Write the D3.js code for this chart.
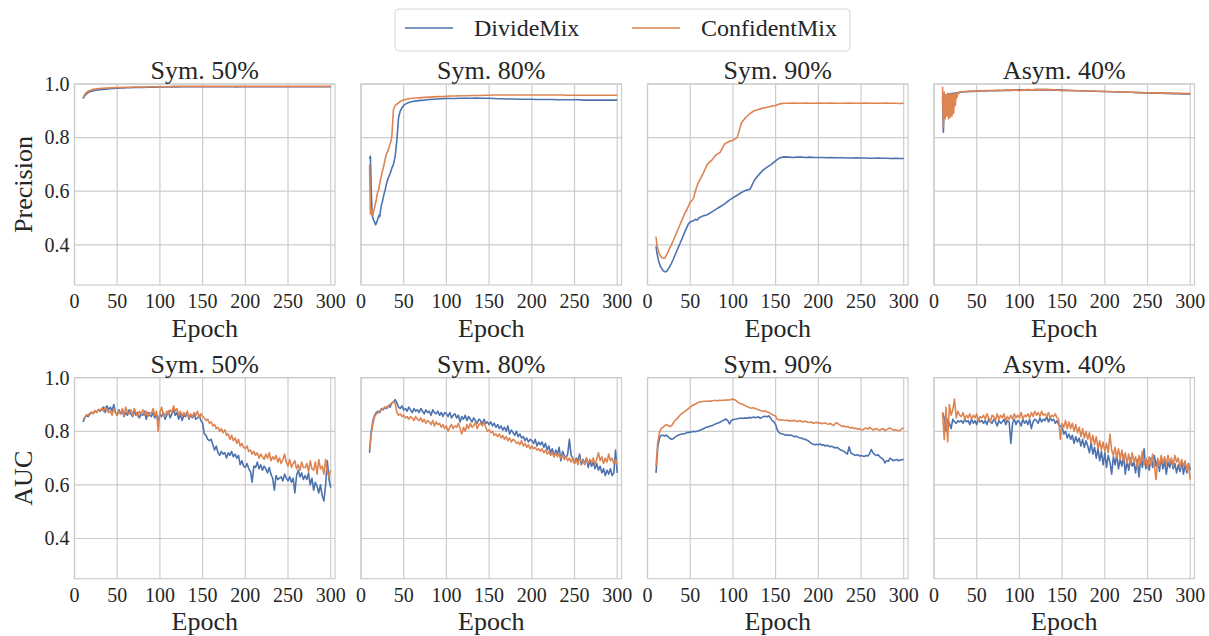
<!DOCTYPE html>
<html>
<head>
<meta charset="utf-8">
<script src="https://cdn.jsdelivr.net/npm/d3@7"></script>
<style>
  body { margin: 0; background: #fff; }
  text { font-family: "Liberation Serif", "Times New Roman", Times, serif; fill: #262626; }
</style>
</head>
<body>
<svg id="chart" width="1209" height="636"></svg>
<script>
// categories / ticks
const panelTitles = ["Sym. 50%", "Sym. 80%", "Sym. 90%", "Asym. 40%"];
const methods = ["DivideMix", "ConfidentMix"];
const rowLabels = ["Precision", "AUC"];
const xTicks = [0, 50, 100, 150, 200, 250, 300];
const yTicks = [0.4, 0.6, 0.8, 1.0];

const precEpochs = [10, 11, 12, 13, 14, 15, 16, 17, 18, 19, 20, 21, 22, 23, 24, 25, 26, 27, 28, 29, 30,
  32, 34, 36, 38, 40, 42, 44, 46, 48, 50, 52, 54, 56, 58, 60,
  65, 70, 75, 80, 85, 90, 95, 100, 105, 110, 115, 120, 125, 130, 135, 140, 145, 150, 155, 160, 165, 170, 175, 180,
  185, 190, 195, 200, 205, 210, 215, 220, 225, 230, 235, 240, 245, 250, 255, 260, 265, 270, 275, 280, 285, 290, 295, 300];
// AUC curves read every 2 epochs, 10..300
const aucEpochs = d3.range(10, 301, 2);

// ---- Precision ----
const precSym50Divide = [.945, .951, .956, .960, .963, .966, .968, .970, .971, .972, .973, .974, .975, .975, .976, .977, .977, .978, .978, .979, .979,
  .980, .980, .981, .981, .982, .982, .983, .983, .984, .984, .984, .985, .985, .985, .986,
  .986, .987, .987, .987, .988, .988, .988, .989,
  .989, .989, .989, .989, .990, .990, .990, .990,
  .990, .990, .990, .990, .990, .990, .990, .990,
  .990, .989, .990, .990, .990, .990, .990, .990,
  .990, .990, .990, .990, .990, .990, .990, .990,
  .990, .990, .990, .990, .990, .990, .990, .990];
const precSym50Confident = [.947, .955, .961, .965, .968, .971, .973, .975, .976, .977, .978, .979, .980, .980, .981, .981, .982, .982, .983, .983, .983,
  .984, .984, .985, .985, .985, .986, .986, .986, .987, .987, .987, .987, .988, .988, .988,
  .988, .989, .989, .989, .989, .990, .990, .990,
  .990, .990, .991, .991, .991, .991, .991, .991,
  .991, .991, .991, .991, .991, .991, .991, .991,
  .991, .991, .991, .991, .991, .991, .991, .991,
  .991, .991, .991, .991, .991, .991, .991, .991,
  .991, .991, .991, .991, .991, .991, .991, .991];

const precSym80Divide = [.72, .73, .60, .51, .50, .49, .485, .475, .48, .49, .50, .51, .505, .53, .55, .56, .575, .59, .60, .615, .63,
  .65, .665, .685, .70, .73, .79, .875, .90, .912, .92, .925, .928, .931, .933, .935,
  .937, .939, .940, .942, .943, .944, .945, .946,
  .946, .946, .947, .947, .947, .947, .948, .947,
  .947, .947, .946, .945, .945, .944, .944, .944,
  .943, .943, .943, .943, .942, .942, .942, .942,
  .942, .941, .941, .941, .941, .941, .941, .940,
  .940, .940, .940, .940, .940, .940, .940, .940];
const precSym80Confident = [.70, .515, .52, .53, .51, .53, .54, .555, .57, .59, .60, .61, .63, .645, .66, .675, .685, .70, .715, .73, .74,
  .755, .775, .80, .905, .92, .925, .93, .935, .938, .94, .942, .944, .945, .946, .947,
  .948, .949, .950, .951, .952, .953, .953, .954,
  .955, .955, .956, .956, .956, .957, .957, .957,
  .958, .958, .959, .959, .959, .959, .959, .959,
  .959, .959, .959, .959, .959, .959, .959, .959,
  .959, .959, .959, .958, .958, .958, .958, .958,
  .958, .958, .958, .958, .958, .958, .958, .958];

const precSym90Divide = [.395, .37, .355, .34, .33, .32, .315, .31, .305, .302, .30, .30, .30, .303, .308, .313, .318, .325, .33, .338, .345,
  .36, .375, .39, .405, .42, .435, .45, .465, .478, .485, .488, .49, .495, .492, .50,
  .508, .512, .522, .532, .542, .552, .565, .575,
  .585, .595, .603, .607, .64, .66, .678, .69,
  .70, .713, .725, .728, .727, .726, .727, .727,
  .726, .727, .726, .726, .726, .725, .726, .725,
  .725, .725, .724, .724, .725, .724, .724, .723,
  .723, .724, .723, .723, .722, .723, .722, .722];
const precSym90Confident = [.43, .40, .385, .375, .365, .36, .355, .352, .35, .35, .35, .355, .36, .367, .373, .38, .388, .393, .40, .408, .415,
  .43, .445, .46, .475, .49, .505, .52, .53, .545, .56, .565, .575, .60, .62, .635,
  .665, .70, .715, .735, .745, .775, .785, .79,
  .80, .855, .875, .89, .90, .905, .91, .913,
  .917, .92, .926, .928, .928, .929, .928, .928,
  .929, .928, .928, .929, .928, .928, .929, .928,
  .928, .928, .929, .928, .928, .928, .929, .928,
  .928, .928, .928, .929, .928, .928, .927, .928];

const precAsym40Divide = [.95, .82, .955, .958, .96, .957, .962, .96, .963, .961, .964, .962, .965, .963, .966, .965, .967, .966, .968, .967, .969,
  .969, .97, .971, .972, .971, .973, .972, .973, .972, .974, .973, .974, .974, .975, .974,
  .975, .976, .975, .976, .977, .976, .977, .978,
  .977, .978, .978, .979, .978, .979, .978, .977,
  .978, .977, .976, .976, .975, .975, .974, .974,
  .973, .973, .972, .972, .971, .971, .970, .970,
  .969, .969, .968, .968, .967, .967, .966, .966,
  .966, .965, .965, .964, .964, .963, .963, .962];
const precAsym40Confident = [.99, .84, .97, .87, .96, .88, .965, .87, .96, .875, .965, .88, .96, .89, .965, .92, .965, .95, .968, .965, .97,
  .97, .971, .972, .972, .973, .972, .974, .973, .974, .973, .975, .974, .975, .975, .976,
  .976, .975, .977, .976, .977, .978, .977, .975,
  .978, .979, .978, .979, .980, .979, .979, .978,
  .977, .975, .977, .976, .976, .975, .975, .974,
  .974, .973, .973, .972, .972, .971, .971, .970,
  .970, .969, .969, .968, .968, .967, .967, .967,
  .966, .966, .966, .965, .965, .965, .964, .964];

// ---- AUC (5 values per 10 epochs) ----
const aucSym50Divide = [
  .835, .85, .86, .855, .865,   .87, .868, .875, .872, .88,   .875, .885, .89, .87, .895,
  .88, .89, .875, .90, .87,     .86, .88, .865, .875, .855,   .87, .86, .88, .865, .855,
  .875, .86, .87, .85, .865,    .86, .875, .845, .87, .86,    .855, .87, .85, .865, .84,
  .865, .855, .87, .845, .86,   .875, .85, .865, .88, .86,    .87, .845, .865, .84, .86,
  .855, .87, .845, .86, .85,    .865, .845, .85, .86, .84,    .83, .79, .785, .77, .765,
  .77, .75, .73, .745, .72,     .71, .725, .715, .72, .70,    .72, .71, .725, .705, .715,
  .70, .71, .675, .69, .67,     .665, .68, .66, .65, .61,     .67, .665, .685, .66, .675,
  .655, .67, .66, .645, .665,   .64, .625, .58, .635, .62,    .625, .63, .615, .64, .625,
  .615, .63, .61, .625, .57,    .635, .655, .63, .645, .62,   .635, .62, .645, .60, .625,
  .58, .61, .595, .57, .60,     .56, .54, .60, .69, .62,      .59];
const aucSym50Confident = [
  .845, .85, .862, .86, .868,   .872, .865, .878, .87, .882,  .878, .885, .875, .89, .88,
  .87, .875, .86, .885, .87,    .86, .875, .865, .885, .86,   .89, .87, .865, .88, .86,
  .885, .87, .855, .875, .865,  .88, .86, .875, .855, .87,    .865, .885, .86, .875, .80,
  .87, .89, .86, .855, .875,    .865, .88, .87, .895, .875,   .885, .86, .875, .855, .87,
  .86, .875, .85, .865, .855,   .87, .86, .875, .85, .865,    .855, .85, .84, .845, .83,
  .835, .82, .825, .81, .815,   .80, .81, .795, .805, .785,   .79, .77, .785, .765, .775,
  .755, .77, .745, .755, .74,   .735, .745, .725, .73, .715,  .725, .71, .72, .70, .715,
  .705, .695, .715, .70, .72,   .69, .705, .695, .71, .685,   .70, .68, .695, .715, .685,
  .67, .695, .665, .68, .69,    .66, .675, .655, .685, .665,  .665, .68, .65, .69, .66,
  .655, .685, .64, .695, .66,   .67, .64, .695, .65, .63,     .655];

const aucSym80Divide = [
  .72, .80, .84, .86, .87,      .875, .87, .885, .88, .89,    .885, .895, .89, .905, .91,
  .918, .905, .89, .885, .895,  .88, .885, .875, .89, .88,    .87, .885, .875, .88, .87,
  .885, .875, .865, .88, .87,   .875, .86, .88, .87, .865,    .875, .86, .87, .855, .87,
  .865, .855, .87, .85, .86,    .865, .85, .86, .835, .855,   .845, .86, .84, .855, .845,
  .835, .85, .84, .83, .845,    .84, .825, .845, .83, .835,   .825, .835, .82, .83, .815,
  .825, .81, .82, .805, .815,   .80, .82, .79, .805, .795,    .785, .80, .78, .79, .775,
  .78, .765, .775, .76, .77,    .765, .755, .77, .745, .76,   .75, .76, .74, .755, .73,
  .745, .72, .735, .705, .73,   .715, .74, .69, .725, .71,    .70, .715, .77, .71, .70,
  .68, .70, .69, .715, .675,    .695, .68, .70, .665, .69,    .67, .685, .66, .68, .655,
  .67, .645, .66, .635, .655,   .64, .66, .635, .645, .73,    .645];
const aucSym80Confident = [
  .73, .79, .83, .855, .865,    .87, .875, .88, .885, .89,    .89, .895, .90, .905, .91,
  .905, .87, .86, .865, .855,   .86, .85, .855, .845, .855,   .85, .84, .855, .845, .84,
  .85, .835, .845, .83, .84,    .835, .825, .84, .82, .835,   .825, .83, .815, .825, .81,
  .82, .80, .815, .825, .81,    .82, .815, .83, .81, .79,     .815, .80, .825, .81, .83,
  .815, .82, .835, .81, .825,   .83, .82, .835, .815, .80,    .805, .795, .80, .785, .79,
  .78, .79, .775, .785, .77,    .78, .765, .775, .76, .77,    .765, .755, .76, .75, .765,
  .745, .755, .74, .75, .735,   .745, .735, .74, .73, .735,   .725, .735, .72, .73, .715,
  .725, .71, .72, .705, .72,    .705, .715, .70, .71, .695,   .705, .69, .70, .685, .70,
  .68, .695, .675, .70, .685,   .69, .675, .70, .68, .695,    .685, .70, .675, .695, .72,
  .69, .705, .68, .70, .685,    .715, .69, .70, .68, .695,    .675];

const aucSym90Divide = [
  .645, .74, .775, .785, .785,  .782, .786, .78, .775, .77,   .772, .778, .782, .785, .788,
  .79, .79, .792, .795, .796,   .797, .798, .80, .798, .80,   .802, .805, .808, .81, .815,
  .815, .818, .82, .822, .825,  .828, .83, .833, .836, .84,   .842, .846, .84, .828, .84,
  .843, .845, .846, .848, .848, .85, .848, .85, .849, .85,    .852, .85, .853, .851, .852,
  .854, .848, .852, .855, .856, .854, .858, .85, .84, .835,   .825, .805, .795, .792, .79,
  .788, .785, .787, .784, .786, .783, .78, .782, .778, .776,  .775, .772, .77, .768, .765,
  .76, .755, .752, .75, .752,   .75, .753, .748, .75, .745,   .748, .745, .742, .744, .74,
  .738, .74, .735, .73, .728,   .725, .72, .715, .742, .72,   .715, .712, .71, .713, .708,
  .71, .708, .706, .71, .708,   .715, .732, .72, .713, .71,   .712, .705, .70, .695, .682,
  .69, .688, .70, .695, .69,    .693, .695, .69, .693, .694,  .695];
const aucSym90Confident = [
  .67, .76, .795, .81, .815,    .82, .825, .822, .818, .82,   .83, .84, .845, .852, .86,
  .866, .87, .875, .88, .885,   .89, .895, .898, .902, .905,  .908, .91, .91, .912, .912,
  .912, .913, .912, .914, .915, .915, .914, .916, .915, .916, .917, .916, .918, .917, .919,
  .92, .918, .914, .908, .905,  .902, .90, .896, .893, .89,   .888, .886, .888, .885, .882,
  .88, .878, .876, .874, .876,  .872, .87, .866, .862, .86,   .856, .845, .842, .843, .842,
  .841, .84, .842, .838, .84,   .839, .841, .838, .836, .84,  .838, .835, .838, .836, .834,
  .833, .835, .83, .832, .834,  .83, .832, .828, .83, .831,   .828, .826, .83, .825, .822,
  .83, .832, .826, .822, .818,  .82, .816, .818, .815, .812,  .815, .81, .812, .808, .81,
  .806, .805, .81, .812, .808,  .815, .81, .805, .808, .81,   .806, .804, .808, .81, .803,
  .806, .81, .812, .808, .805,  .806, .804, .802, .804, .81,  .812];

const aucAsym40Divide = [
  .87, .85, .80, .845, .83,     .81, .845, .835, .83, .84,    .835, .84, .83, .845, .835,
  .84, .825, .845, .83, .84,    .825, .845, .835, .84, .83,   .84, .825, .845, .835, .83,
  .845, .835, .82, .84, .83,    .835, .845, .825, .84, .835,  .755, .83, .845, .825, .84,
  .835, .82, .845, .83, .84,    .825, .845, .81, .835, .845,  .84, .83, .85, .835, .845,
  .84, .855, .835, .85, .84,    .845, .83, .84, .825, .82,    .815, .79, .80, .775, .79,
  .77, .785, .755, .78, .76,    .775, .745, .77, .74, .765,   .745, .72, .76, .715, .74,
  .70, .735, .69, .725, .675,   .72, .665, .71, .685, .64,    .705, .675, .715, .66, .695,
  .67, .71, .64, .69, .655,     .70, .67, .685, .645, .695,   .63, .70, .665, .735, .66,
  .69, .655, .70, .665, .71,    .67, .695, .65, .705, .66,    .69, .64, .685, .665, .695,
  .66, .68, .645, .675, .65,    .69, .64, .675, .645, .68,    .655];
const aucAsym40Confident = [
  .87, .77, .89, .76, .90,      .86, .88, .92, .85, .875,     .86, .855, .87, .845, .86,
  .85, .865, .845, .86, .85,    .865, .84, .855, .85, .86,    .845, .865, .85, .835, .86,
  .855, .84, .865, .845, .86,   .85, .865, .84, .855, .845,   .86, .845, .865, .85, .86,
  .85, .87, .845, .86, .855,    .865, .85, .87, .855, .875,   .86, .87, .855, .875, .86,
  .865, .855, .87, .85, .86,    .855, .865, .85, .845, .77,   .83, .815, .84, .81, .835,
  .81, .83, .80, .825, .795,    .815, .78, .81, .775, .80,    .77, .795, .755, .785, .75,
  .78, .735, .765, .73, .76,    .725, .755, .72, .79, .73,    .71, .74, .70, .735, .695,
  .73, .69, .72, .68, .715,     .675, .72, .685, .705, .665,  .71, .68, .725, .675, .70,
  .665, .705, .675, .715, .67,  .62, .70, .67, .71, .68,      .705, .675, .71, .68, .70,
  .67, .71, .685, .70, .665,    .695, .67, .69, .655, .675,   .62];

const rows = [
  { label: rowLabels[0], epochs: precEpochs, series: [
    [precSym50Divide, precSym50Confident], [precSym80Divide, precSym80Confident],
    [precSym90Divide, precSym90Confident], [precAsym40Divide, precAsym40Confident]] },
  { label: rowLabels[1], epochs: aucEpochs, series: [
    [aucSym50Divide, aucSym50Confident], [aucSym80Divide, aucSym80Confident],
    [aucSym90Divide, aucSym90Confident], [aucAsym40Divide, aucAsym40Confident]] }
];

// layout
const svg = d3.select("#chart");
const panelLeft0 = 74.5, panelStep = 286.5, panelW = 260.5, panelH = 201;
const rowTops = [84, 377.7];
const gridColor = "#cccccc";

const color = d3.scaleOrdinal().domain(methods).range(["#4c72b0", "#dd8452"]);
const x = d3.scaleLinear().domain([0, 305]).range([0, panelW]);
const y = d3.scaleLinear().domain([0.25, 1.0]).range([panelH, 0]);

const line = d3.line()
  .defined(d => d[1] != null)
  .x(d => x(d[0]))
  .y(d => y(d[1]));

rows.forEach((row, r) => {
  row.series.forEach((pair, c) => {
    const g = svg.append("g")
      .attr("transform", `translate(${panelLeft0 + c * panelStep},${rowTops[r]})`);

    // grid
    g.selectAll(".gx").data(xTicks).join("line")
      .attr("x1", d => x(d)).attr("x2", d => x(d))
      .attr("y1", 0).attr("y2", panelH)
      .attr("stroke", gridColor).attr("stroke-width", 1.2);
    g.selectAll(".gy").data(yTicks).join("line")
      .attr("x1", 0).attr("x2", panelW)
      .attr("y1", d => y(d)).attr("y2", d => y(d))
      .attr("stroke", gridColor).attr("stroke-width", 1.2);

    // spines
    g.append("rect")
      .attr("width", panelW).attr("height", panelH)
      .attr("fill", "none").attr("stroke", gridColor).attr("stroke-width", 1.2);

    // x tick labels
    g.selectAll(".xt").data(xTicks).join("text")
      .attr("x", d => x(d)).attr("y", panelH + 23)
      .attr("text-anchor", "middle").attr("font-size", 20)
      .text(d => d);

    // y tick labels (first column only)
    if (c === 0) {
      g.selectAll(".yt").data(yTicks).join("text")
        .attr("x", -5).attr("y", d => y(d)).attr("dy", "0.34em")
        .attr("text-anchor", "end").attr("font-size", 20)
        .text(d => d3.format(".1f")(d));
      g.append("text")
        .attr("transform", `translate(-43,${panelH / 2}) rotate(-90)`)
        .attr("text-anchor", "middle").attr("font-size", 26)
        .text(row.label);
    }

    // title + x label
    g.append("text")
      .attr("x", panelW / 2).attr("y", -5)
      .attr("text-anchor", "middle").attr("font-size", 26)
      .text(panelTitles[c]);
    g.append("text")
      .attr("x", panelW / 2).attr("y", panelH + 51.5)
      .attr("text-anchor", "middle").attr("font-size", 26)
      .text("Epoch");

    // curves
    pair.forEach((vals, k) => {
      const pts = row.epochs.map((e, i) => [e, vals[i]]);
      g.append("path")
        .datum(pts)
        .attr("d", line)
        .attr("fill", "none")
        .attr("stroke", color(methods[k]))
        .attr("stroke-width", 1.6)
        .attr("stroke-linejoin", "round");
    });
  });
});

// legend
const legend = svg.append("g");
legend.append("rect")
  .attr("x", 395).attr("y", 9).attr("width", 455).attr("height", 42).attr("rx", 4)
  .attr("fill", "#fff").attr("stroke", "#d6d6d6").attr("stroke-width", 1);
const legX = [405, 632];
methods.forEach((m, i) => {
  legend.append("line")
    .attr("x1", legX[i]).attr("x2", legX[i] + 48)
    .attr("y1", 28).attr("y2", 28)
    .attr("stroke", color(m)).attr("stroke-width", 1.5);
  legend.append("text")
    .attr("x", legX[i] + 69).attr("y", 36)
    .attr("font-size", 24)
    .text(m);
});
</script>
</body>
</html>
